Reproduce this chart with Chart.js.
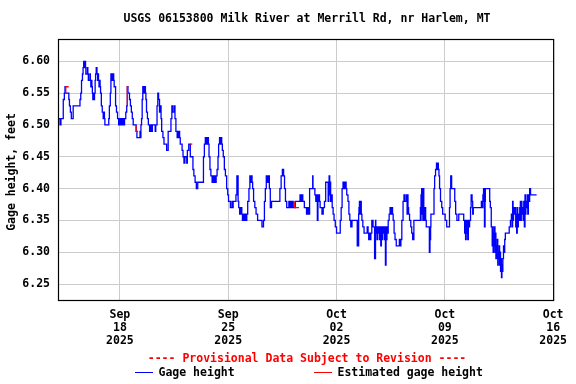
<!DOCTYPE html>
<html><head><meta charset="utf-8">
<script src="https://cdn.jsdelivr.net/npm/chart.js@4/dist/chart.umd.min.js"></script>
<style>html,body{margin:0;padding:0;background:#fff;}canvas{display:block;}</style>
</head><body>
<canvas id="c" width="576" height="384"></canvas>
<script>
// Time in days since 2025-09-14 00:00 (local), value in feet
const times = [
0.00,0.13,0.19,0.34,0.41,0.45,0.48,0.50,0.70,0.74,0.80,0.86,0.98,1.42,1.47,1.52,1.58,1.62,1.66,1.70,
1.73,1.78,1.80,1.90,1.93,1.96,2.06,2.09,2.12,2.16,2.19,2.22,2.25,2.29,2.33,2.36,2.40,2.43,2.47,2.52,
2.56,2.58,2.62,2.65,2.68,2.72,2.75,2.80,2.86,2.92,2.97,3.00,3.03,3.28,3.32,3.38,3.42,3.47,3.50,3.53,
3.56,3.60,3.63,3.72,3.78,3.85,3.92,3.97,4.02,4.07,4.12,4.18,4.25,4.30,4.38,4.44,4.48,4.52,4.62,4.68,
4.74,4.80,4.86,5.05,5.10,5.30,5.33,5.36,5.40,5.44,5.48,5.52,5.55,5.58,5.62,5.65,5.68,5.72,5.78,5.84,
5.92,5.98,6.05,6.10,6.28,6.32,6.40,6.45,6.50,6.56,6.62,6.66,6.70,6.78,6.85,7.02,7.12,7.30,7.36,7.42,
7.52,7.56,7.62,7.70,7.74,7.78,7.82,7.86,7.90,8.02,8.08,8.14,8.20,8.32,8.36,8.45,8.55,8.72,8.78,8.86,
8.94,9.03,9.40,9.46,9.52,9.58,9.61,9.64,9.67,9.72,9.76,9.82,9.88,9.96,10.04,10.10,10.14,10.18,10.22,10.28,
10.34,10.38,10.44,10.50,10.54,10.58,10.62,10.68,10.75,10.82,10.90,10.97,11.02,11.14,11.24,11.28,11.32,11.50,11.56,11.64,
11.68,11.74,11.82,11.88,11.92,11.98,12.02,12.06,12.12,12.20,12.26,12.34,12.40,12.46,12.50,12.54,12.58,12.64,12.72,12.80,
12.90,13.18,13.28,13.34,13.40,13.46,13.54,13.60,13.66,13.72,13.80,14.34,14.42,14.50,14.58,14.64,14.70,14.78,14.92,14.96,
15.00,15.04,15.06,15.10,15.14,15.20,15.34,15.64,15.70,15.76,15.82,15.92,16.06,16.10,16.14,16.18,16.22,16.26,16.46,16.48,
16.60,16.66,16.70,16.73,16.76,16.80,16.82,16.86,16.90,16.94,17.06,17.14,17.22,17.30,17.46,17.50,17.52,17.56,17.58,17.62,
17.66,17.72,17.78,17.84,17.92,18.00,18.24,18.30,18.36,18.42,18.46,18.50,18.54,18.58,18.62,18.66,18.74,18.80,18.86,18.92,
19.00,19.34,19.38,19.40,19.43,19.45,19.48,19.52,19.56,19.60,19.64,19.70,19.78,19.98,20.04,20.08,20.14,20.18,20.22,20.28,
20.36,20.46,20.52,20.54,20.58,20.62,20.66,20.70,20.74,20.78,20.82,20.86,20.90,20.92,20.96,21.00,21.04,21.08,21.12,21.16,
21.20,21.22,21.26,21.30,21.34,21.40,21.46,21.54,21.58,21.62,21.66,21.72,21.78,21.86,22.06,22.12,22.16,22.22,22.30,22.36,
22.42,22.52,22.56,22.60,22.62,22.66,22.72,22.80,22.86,22.92,23.00,23.42,23.44,23.46,23.48,23.50,23.52,23.56,23.58,23.62,
23.64,23.68,23.72,23.76,23.80,24.00,24.04,24.06,24.08,24.10,24.30,24.34,24.40,24.46,24.50,24.54,24.58,24.62,24.66,24.72,
24.80,24.86,25.02,25.12,25.30,25.34,25.38,25.44,25.64,25.70,25.78,25.90,26.22,26.28,26.32,26.34,26.38,26.41,26.44,26.48,
26.52,26.55,26.60,26.66,26.70,26.76,26.80,26.84,27.36,27.42,27.46,27.50,27.54,27.56,27.60,27.62,27.90,27.94,28.00,28.06,
28.09,28.12,28.15,28.18,28.21,28.24,28.27,28.30,28.33,28.36,28.39,28.42,28.45,28.48,28.51,28.54,28.57,28.60,28.63,28.66,
28.69,28.72,28.75,28.79,28.83,28.87,28.91,29.16,29.24,29.30,29.34,29.38,29.41,29.44,29.48,29.54,29.58,29.61,29.64,29.68,
29.71,29.75,29.80,29.84,29.88,29.91,29.94,29.98,30.02,30.06,30.10,30.14,30.18,30.21,30.24,30.28,30.32,30.36,30.40,30.44,
30.48,30.54,30.66,30.93
];
const gageHeight = [
6.50,6.51,6.50,6.51,6.54,6.55,6.56,6.55,6.55,6.54,6.53,6.52,6.51,6.53,6.54,6.55,6.57,6.58,6.59,6.60,
6.59,6.60,6.59,6.58,6.59,6.58,6.57,6.58,6.57,6.56,6.57,6.56,6.55,6.54,6.55,6.54,6.55,6.57,6.58,6.59,
6.58,6.57,6.58,6.57,6.56,6.57,6.56,6.55,6.53,6.52,6.51,6.52,6.51,6.50,6.51,6.53,6.55,6.58,6.57,6.58,
6.57,6.58,6.57,6.56,6.53,6.52,6.51,6.50,6.51,6.50,6.51,6.50,6.51,6.50,6.51,6.52,6.53,6.56,6.55,6.54,
6.53,6.52,6.51,6.50,6.49,6.48,6.49,6.48,6.50,6.51,6.54,6.56,6.55,6.56,6.55,6.56,6.55,6.54,6.52,6.51,
6.50,6.49,6.50,6.49,6.50,6.49,6.50,6.53,6.55,6.54,6.52,6.53,6.51,6.49,6.48,6.47,6.46,6.49,6.51,6.53,
6.52,6.53,6.51,6.49,6.48,6.49,6.48,6.49,6.48,6.47,6.46,6.45,6.44,6.45,6.44,6.46,6.47,6.45,6.43,6.42,
6.41,6.40,6.41,6.45,6.47,6.48,6.47,6.48,6.47,6.48,6.47,6.45,6.43,6.42,6.41,6.42,6.41,6.42,6.41,6.42,
6.43,6.45,6.47,6.48,6.47,6.48,6.47,6.46,6.45,6.43,6.42,6.40,6.39,6.38,6.37,6.38,6.37,6.38,6.39,6.42,
6.38,6.37,6.36,6.37,6.36,6.35,6.36,6.35,6.36,6.35,6.36,6.38,6.40,6.42,6.41,6.42,6.41,6.40,6.38,6.37,
6.36,6.35,6.34,6.35,6.38,6.40,6.42,6.41,6.42,6.40,6.37,6.38,6.40,6.42,6.43,6.42,6.40,6.38,6.37,6.38,
6.37,6.38,6.37,6.38,6.37,6.38,6.37,6.38,6.39,6.38,6.39,6.38,6.37,6.36,6.37,6.36,6.37,6.36,6.40,6.42,
6.40,6.39,6.38,6.39,6.38,6.35,6.39,6.38,6.39,6.38,6.37,6.36,6.37,6.38,6.41,6.38,6.41,6.42,6.39,6.41,
6.38,6.39,6.37,6.36,6.35,6.34,6.33,6.35,6.37,6.40,6.41,6.40,6.41,6.40,6.41,6.40,6.39,6.38,6.36,6.35,
6.34,6.35,6.31,6.35,6.31,6.36,6.37,6.38,6.36,6.38,6.36,6.35,6.34,6.33,6.34,6.33,6.32,6.33,6.32,6.33,
6.35,6.34,6.29,6.35,6.33,6.34,6.32,6.34,6.33,6.34,6.32,6.34,6.31,6.34,6.32,6.34,6.33,6.34,6.32,6.34,
6.28,6.34,6.32,6.34,6.33,6.35,6.36,6.37,6.36,6.37,6.36,6.35,6.33,6.32,6.31,6.32,6.31,6.32,6.35,6.38,
6.39,6.38,6.39,6.36,6.39,6.37,6.36,6.35,6.34,6.33,6.32,6.35,6.37,6.35,6.39,6.36,6.40,6.37,6.40,6.35,
6.40,6.37,6.35,6.37,6.35,6.34,6.30,6.34,6.32,6.34,6.36,6.40,6.42,6.43,6.44,6.43,6.44,6.43,6.42,6.40,
6.38,6.37,6.36,6.35,6.34,6.37,6.40,6.42,6.40,6.38,6.36,6.35,6.36,6.35,6.33,6.35,6.32,6.35,6.33,6.35,
6.32,6.35,6.34,6.35,6.37,6.39,6.38,6.36,6.37,6.38,6.37,6.39,6.40,6.38,6.34,6.38,6.40,6.38,6.37,6.34,
6.31,6.34,6.30,6.33,6.31,6.34,6.30,6.33,6.29,6.31,6.29,6.32,6.28,6.30,6.29,6.31,6.28,6.30,6.27,6.29,
6.26,6.28,6.27,6.29,6.31,6.30,6.32,6.33,6.34,6.35,6.36,6.34,6.38,6.35,6.37,6.36,6.37,6.34,6.36,6.33,
6.37,6.34,6.36,6.35,6.37,6.38,6.35,6.38,6.36,6.37,6.35,6.38,6.34,6.39,6.36,6.38,6.37,6.39,6.36,6.39,
6.38,6.40,6.39,6.39
];
// Estimated (red) pieces; null separates pieces
const estTimes   = [0.50,0.67,0.69,0.70, 4.48,4.52,4.55,4.56, 5.05,5.10,5.18,5.19, 8.55,8.68,8.69, 15.30,15.34,15.58,15.59];
const estHeights = [6.55,6.56,6.56,null, 6.53,6.56,6.56,null, 6.50,6.49,6.49,null, 6.47,6.47,null, 6.38,6.37,6.37,null];

const yTicks = [6.25,6.30,6.35,6.40,6.45,6.50,6.55,6.60];
const xTickDays = [4,11,18,25,32];
const xTickLabels = [['Sep','18','2025'],['Sep','25','2025'],['Oct','02','2025'],['Oct','09','2025'],['Oct','16','2025']];

const FONT = '"DejaVu Sans Mono", "Liberation Mono", monospace';
const FS = 11.5;

const blueData = times.map((t,i)=>({x:t,y:gageHeight[i]}));
const redData = estTimes.map((t,i)=>({x:t,y:estHeights[i]}));

const framePlugin = {
  id:'frame',
  afterDraw(chart){
    const ctx = chart.ctx, a = chart.chartArea;
    ctx.save();
    ctx.strokeStyle = '#000'; ctx.lineWidth = 1.2;
    ctx.strokeRect(a.left+0.5, a.top+0.5, a.right-a.left, a.bottom-a.top);
    ctx.fillStyle = '#000';
    ctx.font = 'bold '+FS+'px '+FONT;
    ctx.textAlign='center'; ctx.textBaseline='middle';
    ctx.fillText('USGS 06153800 Milk River at Merrill Rd, nr Harlem, MT', 307, 19.5);
    ctx.save();
    ctx.translate(12, 172); ctx.rotate(-Math.PI/2);
    ctx.fillText('Gage height, feet', 0, 0);
    ctx.restore();
    ctx.fillStyle = '#ff0000';
    ctx.fillText('---- Provisional Data Subject to Revision ----', 307, 359.5);
    ctx.textAlign='left';
    ctx.fillStyle='#000';
    ctx.fillText('Gage height', 158.5, 373);
    ctx.fillText('Estimated gage height', 337.5, 373);
    ctx.lineWidth = 1;
    ctx.strokeStyle='#0000ff';
    ctx.beginPath(); ctx.moveTo(135,372.5); ctx.lineTo(153,372.5); ctx.stroke();
    ctx.strokeStyle='#ff0000';
    ctx.beginPath(); ctx.moveTo(314,372.5); ctx.lineTo(332,372.5); ctx.stroke();
    ctx.restore();
  }
};

new Chart(document.getElementById('c'), {
  type:'line',
  data:{datasets:[
    {label:'Estimated gage height', data:redData, borderColor:'#ff0000', borderWidth:1.3, pointRadius:0, stepped:'after', spanGaps:false, order:0},
    {label:'Gage height', data:blueData, borderColor:'#0000ff', borderWidth:1.3, pointRadius:0, stepped:'after', order:1}
  ]},
  options:{
    responsive:false, animation:false, devicePixelRatio:1,
    layout:{padding:{left:0, top:39, right:22, bottom:0}},
    plugins:{legend:{display:false}, tooltip:{enabled:false}, title:{display:false}},
    scales:{
      x:{type:'linear', min:0, max:32,
        afterBuildTicks(s){ s.ticks = xTickDays.map(v=>({value:v})); },
        afterFit(s){ s.height = 84; },
        grid:{color:'#cccccc', lineWidth:1, drawTicks:false},
        border:{display:false},
        ticks:{autoSkip:false, maxRotation:0, padding:9, color:'#000',
          font:{family:FONT, size:FS, weight:'bold', lineHeight:1.13},
          callback:(v,i)=>xTickLabels[i]}
      },
      y:{type:'linear', min:6.225, max:6.635,
        afterBuildTicks(s){ s.ticks = yTicks.map(v=>({value:v})); },
        afterFit(s){ s.width = 58; },
        grid:{color:'#cccccc', lineWidth:1, drawTicks:false},
        border:{display:false},
        ticks:{padding:8, color:'#000', font:{family:FONT, size:FS, weight:'bold'},
          callback:(v)=>Number(v).toFixed(2)}
      }
    }
  },
  plugins:[framePlugin]
});
</script>
</body></html>
